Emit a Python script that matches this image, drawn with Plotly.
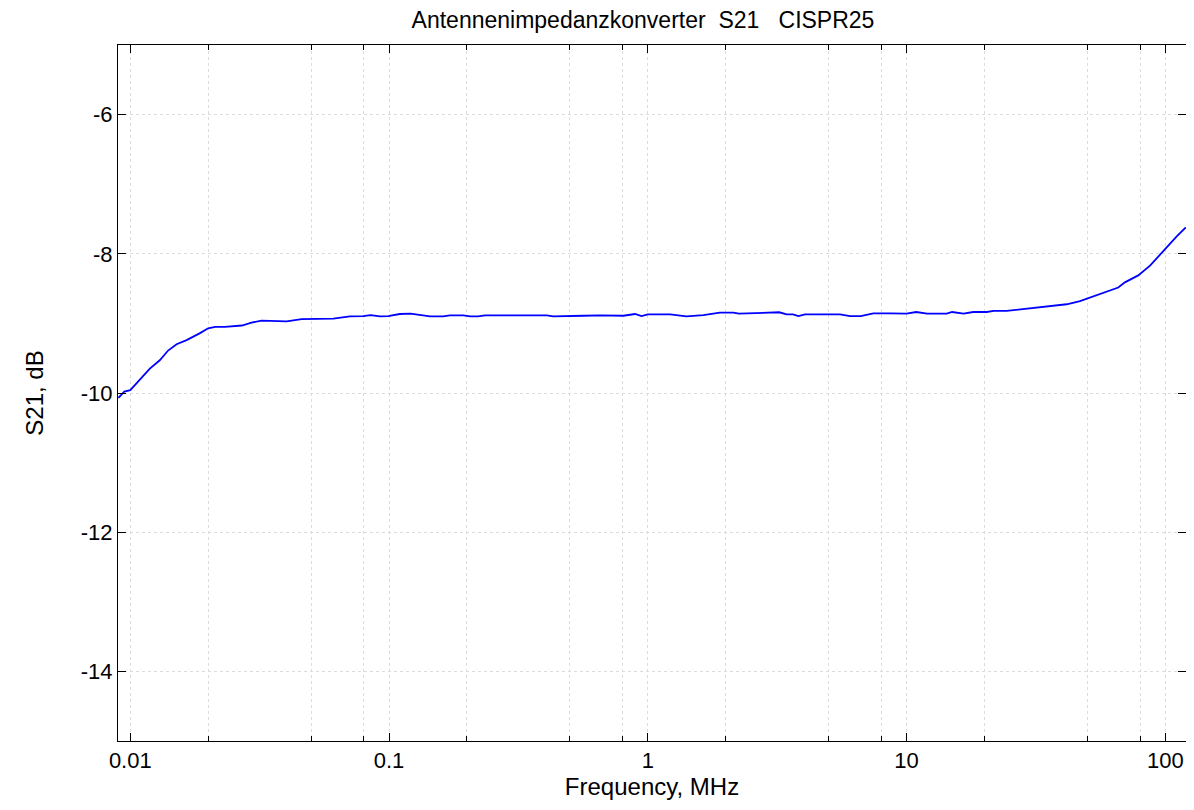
import plotly.graph_objects as go

freq_mhz = [0.0090, 0.00948, 0.0100, 0.0109, 0.0119, 0.0130, 0.0140, 0.0151, 0.0165, 0.0186,
            0.0200, 0.0213, 0.0232, 0.0270, 0.0294, 0.0322, 0.0362, 0.0402, 0.0459, 0.0517,
            0.0609, 0.0706, 0.0795, 0.0849, 0.0923, 0.0993, 0.110, 0.121, 0.132, 0.144,
            0.162, 0.172, 0.194, 0.206, 0.221, 0.235, 0.312, 0.407, 0.431, 0.500,
            0.564, 0.654, 0.804, 0.892, 0.946, 1.00, 1.22, 1.41, 1.64, 1.90,
            2.14, 2.25, 3.10, 3.22, 3.44, 3.64, 3.82, 4.05, 5.53, 6.05,
            6.65, 7.44, 8.63, 10.0, 10.9, 12.0, 14.3, 15.0, 16.6, 18.1,
            20.4, 21.7, 24.4, 27.4, 30.9, 36.9, 41.6, 46.8, 55.9, 65.8,
            69.8, 78.6, 87.3, 95.4, 104.3, 110.7, 120.0]
s21_db = [-10.07, -9.98, -9.96, -9.81, -9.65, -9.53, -9.39, -9.30, -9.24, -9.14,
          -9.07, -9.05, -9.05, -9.03, -8.99, -8.96, -8.97, -8.97, -8.94, -8.94,
          -8.93, -8.90, -8.895, -8.88, -8.90, -8.895, -8.865, -8.86, -8.88, -8.90,
          -8.90, -8.885, -8.885, -8.90, -8.90, -8.885, -8.885, -8.885, -8.90, -8.90,
          -8.89, -8.885, -8.89, -8.865, -8.895, -8.87, -8.87, -8.90, -8.88, -8.845,
          -8.845, -8.86, -8.85, -8.84, -8.87, -8.87, -8.895, -8.87, -8.87, -8.895,
          -8.895, -8.855, -8.855, -8.86, -8.836, -8.86, -8.86, -8.836, -8.86, -8.836,
          -8.836, -8.82, -8.82, -8.80, -8.78, -8.75, -8.725, -8.68, -8.58, -8.485,
          -8.41, -8.31, -8.17, -8.01, -7.85, -7.75, -7.62]

major_x = [0.01, 0.1, 1, 10, 100]
major_x_text = ["0.01", "0.1", "1", "10", "100"]
minor_x = [m * d for d in [0.01, 0.1, 1, 10] for m in (2, 5, 8)]
y_ticks = [-14, -12, -10, -8, -6]
y_tick_text = ["-14", "-12", "-10", "-8", "-6"]

font = "Liberation Sans, Arial, sans-serif"
grid = "#dcdcdc"

fig = go.Figure()
fig.add_trace(go.Scatter(x=freq_mhz, y=s21_db, mode="lines",
                         line=dict(color="#0000ff", width=1.8), showlegend=False))

fig.update_layout(
    width=1186, height=802,
    margin=dict(l=110, r=8, t=37, b=69),
    paper_bgcolor="white", plot_bgcolor="white",
    font=dict(family=font, size=22, color="black"),
    title=dict(text="Antennenimpedanzkonverter  S21   CISPR25", x=0.5354, xanchor="center",
               y=0.985, yanchor="middle", font=dict(family=font, size=23, color="black")),
    xaxis=dict(
        type="log", range=[-2.0475, 2.08],
        tickmode="array", tickvals=major_x, ticktext=major_x_text,
        ticks="inside", ticklen=8, tickcolor="black", tickwidth=1,
        showline=True, linecolor="black", linewidth=1, mirror="allticks",
        showgrid=True, gridcolor=grid, griddash="dot", gridwidth=1,
        minor=dict(tickvals=minor_x, ticks="inside", ticklen=5, tickcolor="black",
                   showgrid=True, gridcolor=grid, griddash="dot", gridwidth=1),
        zeroline=False,
        title=dict(text="Frequency, MHz", font=dict(size=24), standoff=3),
        tickfont=dict(size=22),
    ),
    yaxis=dict(
        range=[-15, -5], tickmode="array", tickvals=y_ticks, ticktext=y_tick_text,
        ticks="inside", ticklen=8, tickcolor="black", tickwidth=1,
        showline=True, linecolor="black", linewidth=1, mirror="allticks",
        showgrid=True, gridcolor=grid, griddash="dot", gridwidth=1,
        zeroline=False,
        title=dict(text="S21, dB", font=dict(size=24), standoff=30),
        tickfont=dict(size=22),
    ),
)

fig.write_html("out.html")
